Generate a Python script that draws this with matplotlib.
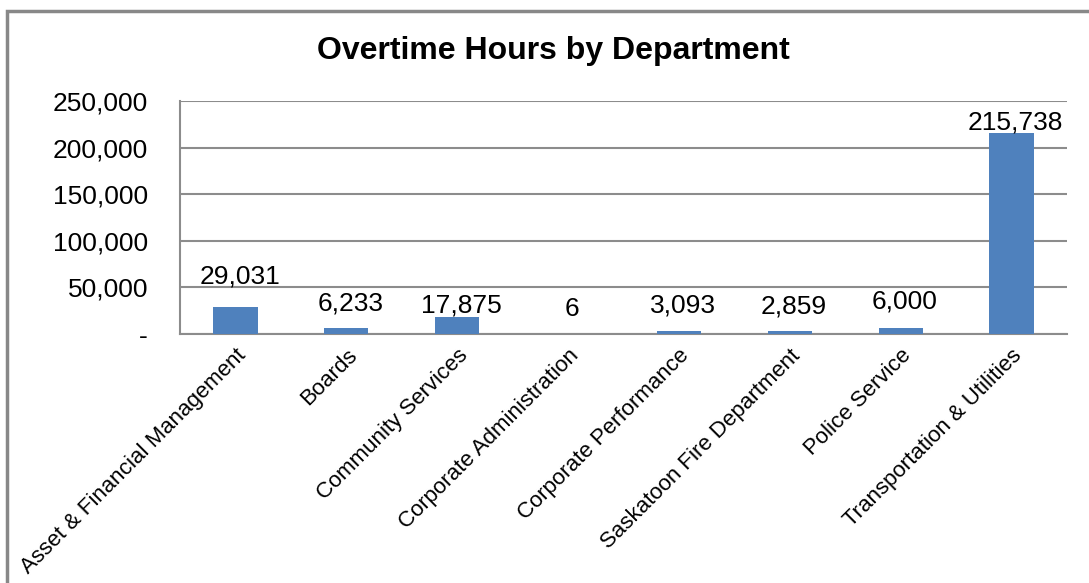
import matplotlib
matplotlib.use("Agg")
import matplotlib.pyplot as plt
from matplotlib.patches import Rectangle
from matplotlib.ticker import FuncFormatter

# -----------------------------
# Data
# -----------------------------
departments = [
    "Asset & Financial Management",
    "Boards",
    "Community Services",
    "Corporate Administration",
    "Corporate Performance",
    "Saskatoon Fire Department",
    "Police Service",
    "Transportation & Utilities",
]
overtime_hours = [29031, 6233, 17875, 6, 3093, 2859, 6000, 215738]
y_ticks = [0, 50000, 100000, 150000, 200000, 250000]

# -----------------------------
# Style
# -----------------------------
BAR_COLOR = "#4F81BD"
GRID_COLOR = "#8C8C8C"
# vertical nudge (points) of each data label above its bar
label_nudge = [13, 9, 0, 9, 10, 9, 11, -1]

plt.rcParams["font.family"] = ["Liberation Sans", "DejaVu Sans"]

fig = plt.figure(figsize=(10.89, 5.83), dpi=100)
ax = fig.add_axes([0.1653, 0.4271, 0.8145, 0.3997])

x = range(len(departments))
bars = ax.bar(x, overtime_hours, width=0.4, color=BAR_COLOR, zorder=3)

for rect, val, dy in zip(bars, overtime_hours, label_nudge):
    ax.annotate(
        f"{val:,}",
        (rect.get_x() + rect.get_width() / 2, rect.get_height()),
        xytext=(3, dy), textcoords="offset points",
        ha="center", va="bottom", fontsize=19,
    )

ax.set_xlim(-0.5, len(departments) - 0.5)
ax.set_ylim(0, 250000)
ax.set_yticks(y_ticks)
ax.yaxis.set_major_formatter(
    FuncFormatter(lambda v, _: "-" if v == 0 else f"{int(v):,}")
)
ax.set_xticks(list(x))
ax.set_xticklabels(departments, rotation=45, ha="right", va="top",
                   rotation_mode="anchor", fontsize=16)
ax.tick_params(axis="y", labelsize=19, length=0, pad=23)
ax.tick_params(axis="x", length=0, pad=8)

ax.grid(axis="y", color=GRID_COLOR, linewidth=1.5, zorder=0)
for side in ["top", "right"]:
    ax.spines[side].set_visible(False)
for side in ["left", "bottom"]:
    ax.spines[side].set_color(GRID_COLOR)
    ax.spines[side].set_linewidth(1.5)

fig.text(0.508, 0.912, "Overtime Hours by Department",
         ha="center", va="center", fontsize=23, fontweight="bold")

# outer chart border
fig.patches.append(Rectangle((7 / 1089, -0.1), 1.2, 1 - 11 / 583 + 0.1,
                             transform=fig.transFigure, fill=False,
                             edgecolor="#888888", linewidth=2.5))

fig.savefig("out.png", dpi=100)
